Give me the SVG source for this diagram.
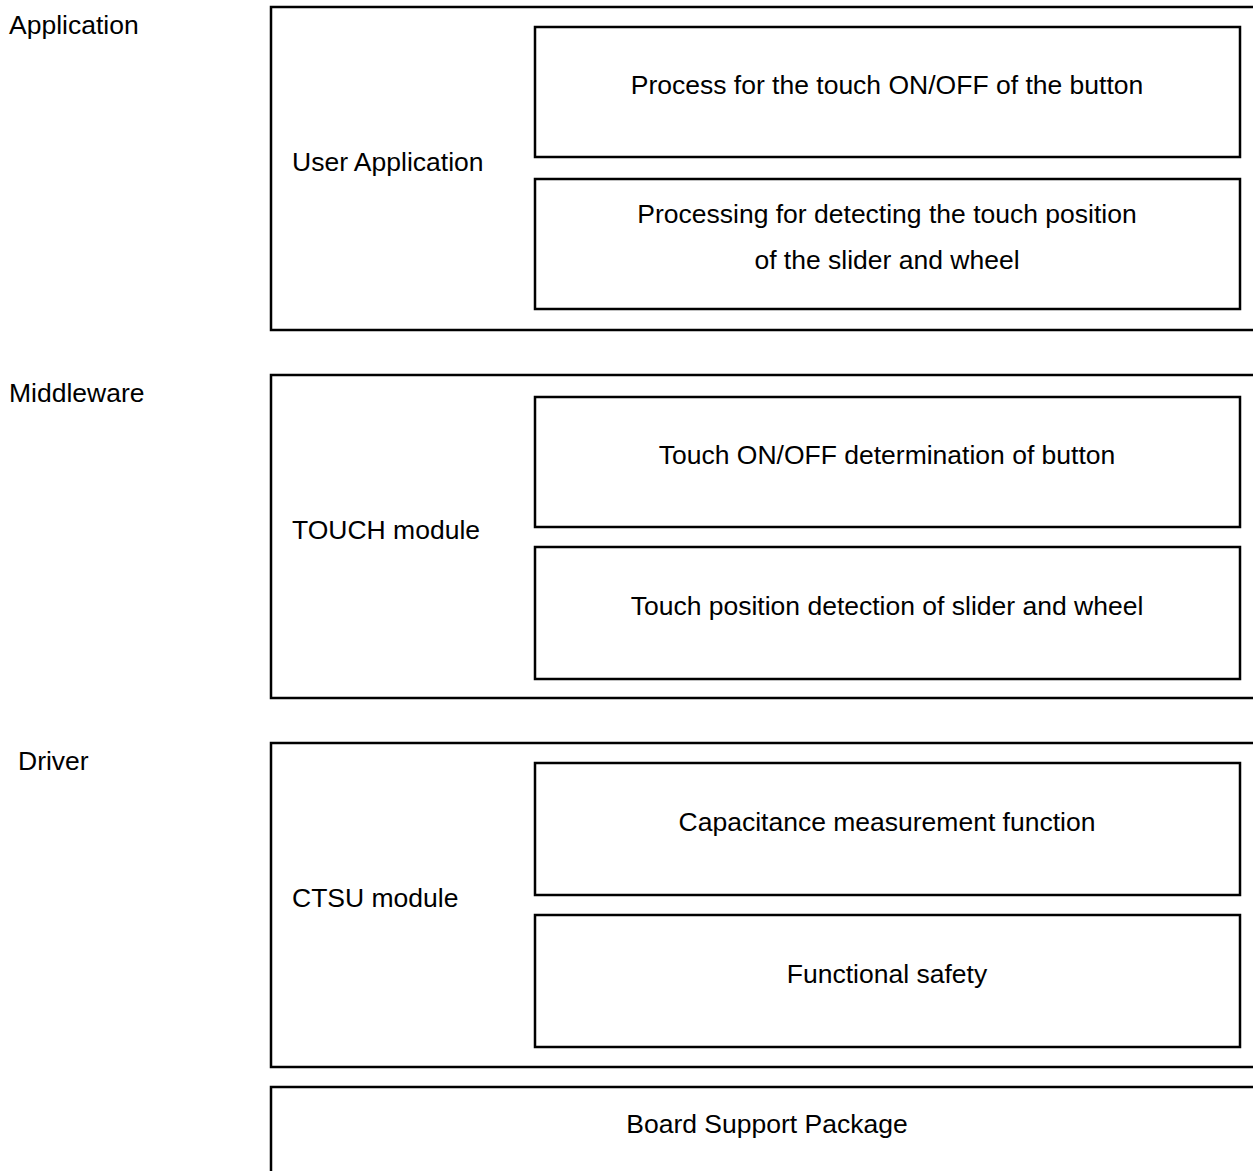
<svg xmlns="http://www.w3.org/2000/svg" width="1253" height="1171" viewBox="0 0 1253 1171">
<style>
.b{fill:#fff;stroke:#000;stroke-width:2.5}
text{font-family:"Liberation Sans",Arial,sans-serif;font-size:26.5px;fill:#000}
.c{text-anchor:middle}
</style>
<rect width="1253" height="1171" fill="#fff"/>
<g id="layer-labels">
<text x="9" y="34">Application</text>
<text x="9" y="402">Middleware</text>
<text x="18" y="770">Driver</text>
</g>
<g id="user-app">
<rect class="b" x="271" y="7" width="1000" height="323"/>
<text x="292" y="171">User Application</text>
</g>
<g id="app-button">
<rect class="b" x="535" y="27" width="705" height="130"/>
<text class="c" x="887" y="94">Process for the touch ON/OFF of the button</text>
</g>
<g id="app-slider">
<rect class="b" x="535" y="179" width="705" height="130"/>
<text class="c" x="887" y="223">Processing for detecting the touch position</text>
<text class="c" x="887" y="269">of the slider and wheel</text>
</g>
<g id="touch-module">
<rect class="b" x="271" y="375" width="1000" height="323"/>
<text x="292" y="539">TOUCH module</text>
</g>
<g id="touch-button">
<rect class="b" x="535" y="397" width="705" height="130"/>
<text class="c" x="887" y="464">Touch ON/OFF determination of button</text>
</g>
<g id="touch-slider">
<rect class="b" x="535" y="547" width="705" height="132"/>
<text class="c" x="887" y="615">Touch position detection of slider and wheel</text>
</g>
<g id="ctsu-module">
<rect class="b" x="271" y="743" width="1000" height="324"/>
<text x="292" y="907">CTSU module</text>
</g>
<g id="ctsu-cap">
<rect class="b" x="535" y="763" width="705" height="132"/>
<text class="c" x="887" y="831">Capacitance measurement function</text>
</g>
<g id="ctsu-safety">
<rect class="b" x="535" y="915" width="705" height="132"/>
<text class="c" x="887" y="983">Functional safety</text>
</g>
<g id="bsp">
<rect class="b" x="271" y="1087" width="1000" height="120"/>
<text class="c" x="767" y="1133">Board Support Package</text>
</g>
<g id="connectors"/>
</svg>
